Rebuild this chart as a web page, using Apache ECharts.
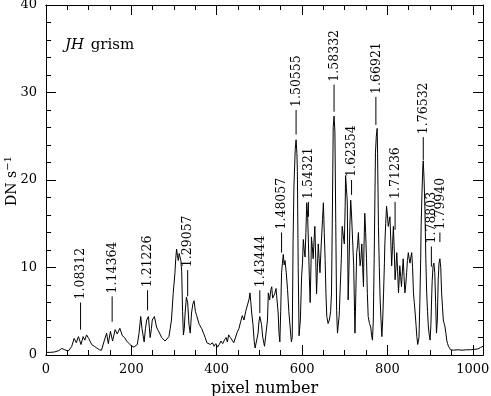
<!DOCTYPE html>
<html>
<head>
<meta charset="utf-8">
<script src="https://cdn.jsdelivr.net/npm/echarts@6/dist/echarts.min.js"></script>
<style>html,body{margin:0;padding:0;background:#fff}#c{width:491px;height:396px}</style>
</head>
<body>
<div id="c"></div>
<script>
// Spectrum: pixel number
const pixel = [0,10,20,30,37,44,52,60,66,71,76,82,87,91,95,100,107,113,119,125,130,137,142,146,151,156,162,167,173,179,184,189,195,201,206,210,214,218,222,225,227,230,233,236,240,244,247,249,254,259,263,267,271,275,279,283,288,291,294,298,302,304,306,308,310,312,314,316,318,320,322,324,326,329,332,335,338,341,344,347,350,353,356,359,362,365,369,373,377,381,385,390,394,398,402,406,410,414,418,422,425,428,432,436,440,444,448,452,456,460,464,468,472,476,478,480,482,485,488,490,494,497,499,501,503,505,508,512,516,519,521,524,527,529,531,533,536,539,541,544,546,548,550,552,554,556,558,560,563,566,569,572,575,577,579,581,584,586,588,589,591,593,596,599,601,603,605,607,609,611,613,615,617,619,621,622,624,626,628,630,632,634,636,638,640,642,645,648,650,652,654,656,658,661,664,667,669,671,673,675,677,679,681,683,685,687,689,692,694,697,699,701,702,704,706,708,710,712,714,716,719,721,723,724,726,728,730,732,734,736,738,740,742,744,745,747,749,751,753,755,758,761,763,765,767,769,771,772,774,776,777,779,781,783,785,787,789,791,793,794,796,798,800,802,804,806,808,810,812,814,816,818,820,822,824,826,828,829,831,833,835,837,839,841,843,845,847,849,851,853,855,857,859,861,863,865,867,869,871,872,874,876,878,879,881,883,884,886,888,890,892,894,896,898,900,902,904,905,907,909,911,913,915,917,919,921,923,925,927,929,931,933,935,937,939,941,943,945,948,955,965,975,985,995,1005,1012,1018,1021,1024];
// Spectrum: DN s^-1
const flux = [0.3,0.3,0.35,0.5,0.75,0.6,0.45,0.95,1.9,1.4,2.1,1.2,2.1,1.7,2.3,1.9,1.2,1.0,0.8,0.6,0.55,1.7,2.5,1.3,2.7,1.6,2.9,2.4,3.05,2.2,2.0,1.6,1.3,1.0,0.9,0.7,1.2,2.5,4.4,3.0,2.4,1.5,3.0,4.0,4.4,2.0,3.0,4.0,4.4,3.2,2.8,2.4,2.0,1.8,1.6,1.4,2.1,3.0,4.0,7.0,9.3,11.0,12.1,11.4,10.8,11.6,11.8,10.8,9.5,5.0,2.3,3.0,4.8,6.6,6.0,3.5,2.5,4.8,5.8,6.2,5.0,4.5,4.0,3.5,3.7,3.0,2.5,2.0,1.4,1.6,1.2,1.4,1.0,1.3,0.9,1.2,1.6,1.3,1.7,2.0,1.5,2.3,2.0,1.8,1.4,1.6,2.6,3.0,3.8,4.5,4.0,5.0,5.2,6.4,7.1,6.0,4.8,3.5,1.5,0.8,0.9,2.5,3.8,4.4,4.2,3.5,2.0,1.0,0.8,4.0,7.1,6.3,7.5,7.8,6.5,6.3,7.0,7.6,7.4,4.8,2.5,1.5,5.0,9.4,10.5,11.5,10.3,10.8,9.4,7.5,5.0,3.2,1.5,2.0,13.0,19.3,23.5,24.6,23.0,21.0,10.0,2.2,4.0,9.0,10.5,13.2,12.0,11.2,14.0,17.4,16.0,12.7,9.0,6.0,10.5,13.5,12.4,11.0,13.0,14.7,11.0,7.0,10.0,12.7,11.0,9.4,12.7,15.5,17.4,14.0,11.0,7.0,4.4,3.6,4.0,5.0,7.1,16.0,26.0,27.3,25.5,15.0,5.1,2.5,2.3,4.5,7.1,11.0,14.7,13.5,12.7,17.0,20.5,19.0,17.5,6.3,10.0,14.7,17.7,16.0,12.5,10.2,5.0,2.5,7.0,11.7,12.5,14.0,12.0,10.2,11.0,12.7,10.0,7.8,12.0,16.2,14.0,11.0,7.0,4.4,3.6,3.2,2.2,1.7,4.0,11.0,19.0,23.1,25.0,25.9,23.0,14.7,10.0,6.3,4.0,2.1,4.0,7.1,10.5,12.7,15.0,17.0,16.0,14.7,14.5,15.8,13.0,10.2,12.5,14.7,12.0,8.6,10.0,11.7,9.5,7.1,9.0,10.2,9.0,7.8,9.5,11.0,9.0,7.1,8.0,9.4,10.8,11.7,11.0,10.5,11.2,11.7,10.0,7.1,6.0,4.8,3.5,2.1,1.2,1.0,2.0,6.0,11.0,14.7,18.5,21.5,22.2,20.0,16.5,11.0,7.1,5.0,3.2,2.3,1.7,3.5,7.1,8.5,10.2,10.5,9.4,6.0,2.5,4.0,8.6,10.5,11.0,10.0,7.1,5.5,4.0,3.6,3.2,2.5,1.7,1.3,1.0,0.8,0.6,0.55,0.6,0.55,0.6,0.6,0.65,0.7,0.85,0.95,1.0];

// Line identifications (wavelength labels)
const lineNames = ["1.08312","1.14364","1.21226","1.29057","1.43444","1.48057","1.50555","1.54321","1.58332","1.62354","1.66921","1.71236","1.76532","1.78803","1.79940"];
const linePixel = [81,155,238,332,501,552,586,615,675,716,773,818,884,903,923];
const tickLow  = [2.9,3.8,5.1,6.7,4.8,11.7,25.2,15.8,27.8,18.3,26.3,14.3,22.3,10.1,12.9];
const tickHigh = [6.0,6.7,7.4,9.7,7.4,14.0,28.0,17.5,30.9,20.0,29.5,17.5,24.9,12.4,14.0];

// Axis ticks
const xMajor = [0,200,400,600,800,1000];
const xMinor = [50,100,150,250,300,350,450,500,550,650,700,750,850,900,950];
const xMax = 1024;
const yMax = 40;

const FONT = '"DejaVu Serif", "Liberation Serif", serif';
const chart = echarts.init(document.getElementById('c'), null, {renderer: 'canvas'});

const spectrum = pixel.map((p, i) => [p, flux[i]]);
const ids = linePixel.map((p, i) => [p, tickLow[i], tickHigh[i], i]);

function line() { return {show: true, onZero: false, lineStyle: {color: '#000', width: 1}}; }
function tick(len, vals) {
  const t = {show: true, inside: true, length: len, lineStyle: {color: '#000', width: 1}};
  if (vals) t.customValues = vals;
  return t;
}
function xAx(gridIndex, position, len, vals, labels) {
  return {
    type: 'value', gridIndex: gridIndex, position: position, min: 0, max: xMax,
    axisLine: line(), axisTick: tick(len, vals),
    axisLabel: labels ? {show: true, customValues: xMajor, formatter: v => String(v),
                         fontFamily: FONT, fontSize: 13, color: '#000', margin: 8}
                      : {show: false},
    splitLine: {show: false}
  };
}
function yAx(gridIndex, position, labels) {
  return {
    type: 'value', gridIndex: gridIndex, position: position, min: 0, max: yMax, interval: 10,
    axisLine: line(), axisTick: tick(10),
    minorTick: {show: true, splitNumber: 5, length: 5, lineStyle: {color: '#000', width: 1}},
    axisLabel: labels ? {show: true, fontFamily: FONT, fontSize: 13, color: '#000', margin: 9} : {show: false},
    splitLine: {show: false}, minorSplitLine: {show: false}
  };
}

const gridBox = {left: 46, right: 8, top: 5, bottom: 41, containLabel: false, outerBoundsMode: 'none'};

const xMain = xAx(0, 'bottom', 10, xMajor, true);
xMain.name = 'pixel number';
xMain.nameLocation = 'middle';
xMain.nameGap = 25;
xMain.nameTextStyle = {fontFamily: FONT, fontSize: 16, color: '#000'};

chart.setOption({
  animation: false,
  backgroundColor: '#fff',
  grid: [Object.assign({}, gridBox), Object.assign({}, gridBox)],
  xAxis: [
    xMain,
    xAx(0, 'top', 10, xMajor, false),
    xAx(1, 'bottom', 5, xMinor, false),
    xAx(1, 'top', 5, xMinor, false)
  ],
  yAxis: [
    yAx(0, 'left', true),
    yAx(0, 'right', false),
    Object.assign(yAx(1, 'left', false), {show: false}),
  ],
  series: [
    {
      type: 'line', data: spectrum, xAxisIndex: 0, yAxisIndex: 0,
      showSymbol: false, symbol: 'none', silent: true,
      lineStyle: {color: '#000', width: 1}
    },
    {
      type: 'custom', data: ids, xAxisIndex: 0, yAxisIndex: 0, silent: true, clip: false,
      encode: {x: 0, y: [1, 2]},
      renderItem: function (params, api) {
        const x = api.value(0), lo = api.value(1), hi = api.value(2), idx = api.value(3);
        const p0 = api.coord([x, lo]);
        const p1 = api.coord([x, hi]);
        return {
          type: 'group',
          children: [
            {type: 'line', shape: {x1: p0[0], y1: p0[1], x2: p1[0], y2: p1[1]},
              style: {stroke: '#000', lineWidth: 1}},
            {type: 'text', x: p1[0] + 0.5, y: p1[1] - 3, rotation: Math.PI / 2,
              style: {text: lineNames[idx], font: '12.5px ' + FONT, fill: '#000',
                align: 'left', verticalAlign: 'middle'}}
          ]
        };
      }
    },
    {
      type: 'line', data: [], xAxisIndex: 2, yAxisIndex: 2, silent: true
    }
  ],
  graphic: [
    {type: 'text', x: 12, y: 181, rotation: Math.PI / 2,
      style: {text: '{n|DN s}{s|−1}', align: 'center', verticalAlign: 'middle',
        rich: {n: {fontFamily: FONT, fontSize: 14, fill: '#000'},
               s: {fontFamily: FONT, fontSize: 10, fill: '#000', verticalAlign: 'top', padding: [0,0,8,0]}}}},
    {type: 'text', x: 65, y: 45,
      style: {text: '{i|JH}  {r|grism}', verticalAlign: 'middle',
        rich: {i: {fontFamily: FONT, fontStyle: 'italic', fontSize: 15, fill: '#000'},
               r: {fontFamily: FONT, fontSize: 15, fill: '#000'}}}}
  ]
});
</script>
</body>
</html>
